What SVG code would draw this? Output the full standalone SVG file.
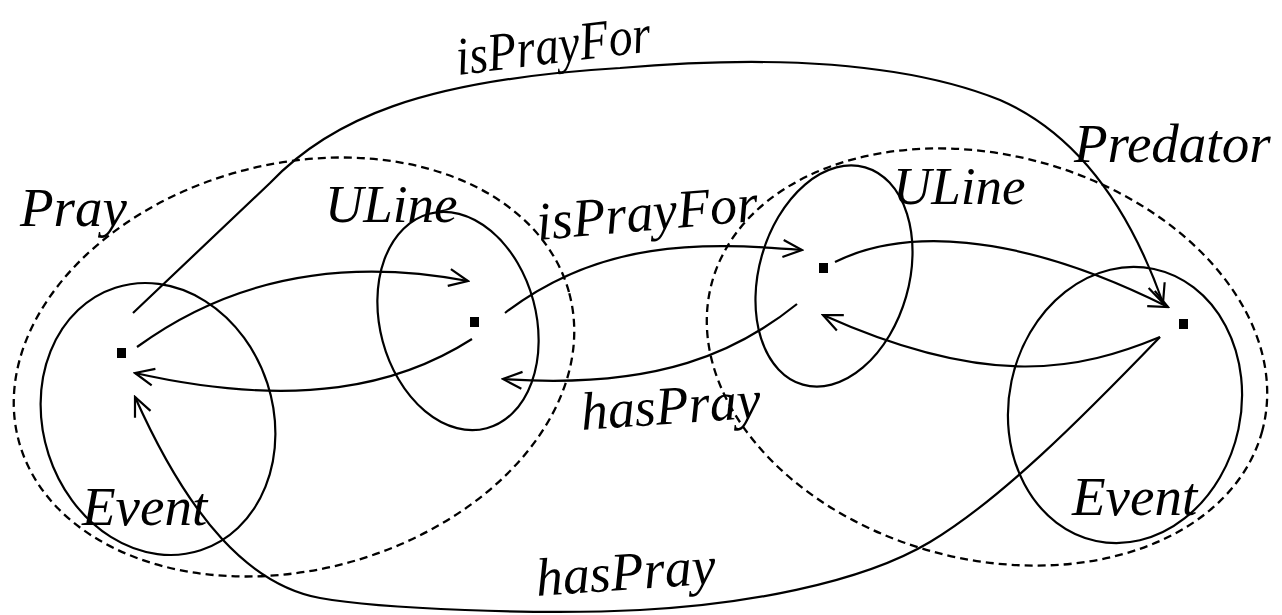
<svg xmlns="http://www.w3.org/2000/svg" width="1282" height="615" viewBox="0 0 1282 615">
<style>
.bg{fill:#fff}
.set{fill:none;stroke:#000;stroke-width:2.3;stroke-dasharray:8 5}
.cls{fill:none;stroke:#000;stroke-width:2.2}
.dot{fill:#000}
.edge{fill:none;stroke:#000;stroke-width:2.2;marker-end:url(#ah)}
text{font-family:"Liberation Serif","Times New Roman",serif;font-style:italic;font-size:55px;fill:#000}
text.ul{font-size:53px}
text.el{font-size:54px}
</style>
<defs>
<marker id="ah" viewBox="-22 -11 24 22" refX="0" refY="0" markerWidth="24" markerHeight="22" markerUnits="userSpaceOnUse" orient="auto">
<path d="M-19,-8.5 L0,0 L-19,8.5" fill="none" stroke="#000" stroke-width="2.2"/>
</marker>
</defs>
<rect class="bg" x="0" y="0" width="1282" height="615"/>
<g id="pray">
<ellipse class="set" cx="294" cy="367" rx="285" ry="203" transform="rotate(-15 294 367)"/>
<text x="20" y="226">Pray</text>
</g>
<g id="predator">
<ellipse class="set" cx="987" cy="357" rx="285" ry="202" transform="rotate(15 987 357)"/>
<text x="1074" y="162">Predator</text>
</g>
<g id="event-left">
<ellipse class="cls" cx="158" cy="419" rx="115" ry="138" transform="rotate(-18 158 419)"/>
<text x="82" y="525">Event</text>
<rect class="dot" x="117" y="348" width="9" height="10"/>
</g>
<g id="uline-left">
<ellipse class="cls" cx="458" cy="321" rx="78" ry="111" transform="rotate(-15 458 321)"/>
<text class="ul" x="325" y="222">ULine</text>
<rect class="dot" x="470" y="317" width="9" height="10"/>
</g>
<g id="uline-right">
<ellipse class="cls" cx="834" cy="276" rx="75" ry="113" transform="rotate(16 834 276)"/>
<text class="ul" x="893" y="204">ULine</text>
<rect class="dot" x="819" y="263" width="9" height="10"/>
</g>
<g id="event-right">
<ellipse class="cls" cx="1125" cy="405" rx="116" ry="139" transform="rotate(12 1125 405)"/>
<text x="1072" y="515">Event</text>
<rect class="dot" x="1179" y="319" width="9" height="10"/>
</g>
<g id="connectors">
<path class="edge" d="M137,347 C222,285 330,255 468,281"/>
<path class="edge" d="M472,339 C400,385 300,410 135,373"/>
<path class="edge" d="M505,313 C600,240 700,242 802,250"/>
<path class="edge" d="M797,304 C740,350 660,390 503,379"/>
<path class="edge" d="M835,262 C900,230 1010,228 1168,307"/>
<path class="edge" d="M1160,337 C1080,370 990,390 823,315"/>
<path class="edge" d="M133,313 L270,183 C330,120 420,80 620,68 C760,56 900,60 1000,100 C1080,135 1130,210 1163,303"/>
<path class="edge" d="M1160,337 C1080,420 1000,500 930,542 C860,584 740,605 640,610 C540,615 380,609 320,598 C250,585 190,520 135,397"/>
<text class="el" x="458" y="75" textLength="196" lengthAdjust="spacingAndGlyphs" transform="rotate(-7 458 75)">isPrayFor</text>
<text class="el" x="538" y="240" transform="rotate(-5 538 240)">isPrayFor</text>
<text class="el" x="582" y="430" transform="rotate(-4 582 430)">hasPray</text>
<text class="el" x="537" y="596" transform="rotate(-4 537 596)">hasPray</text>
</g>
</svg>
